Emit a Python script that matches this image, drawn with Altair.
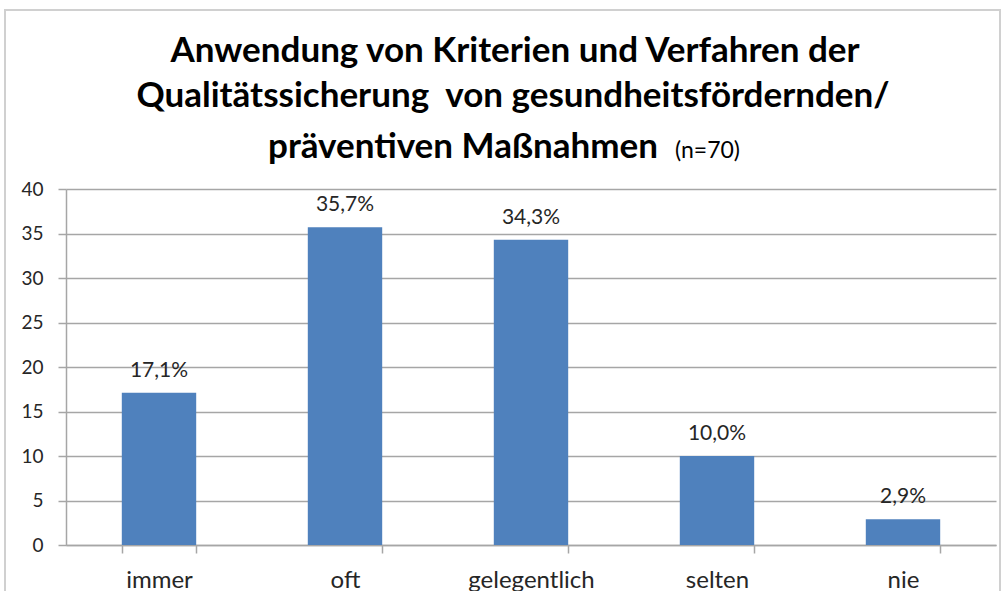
import altair as alt
import pandas as pd

categories = ["immer", "oft", "gelegentlich", "selten", "nie"]
values = [17.1, 35.7, 34.3, 10.0, 2.9]
labels = ["17,1%", "35,7%", "34,3%", "10,0%", "2,9%"]
title_lines = ["Anwendung von Kriterien und Verfahren der",
               "Qualitätssicherung\u00a0 von gesundheitsfördernden/",
               "präventiven Maßnahmen"]
n_note = "(n=70)"

df = pd.DataFrame({"cat": categories, "val": values, "lab": labels})

FONT = "Lato"
TXT = "#262626"
GRID = "#A6A6A6"
W, H = 930, 356

x = alt.X("cat:N", sort=categories, title=None,
          scale=alt.Scale(paddingInner=0.6, paddingOuter=0.3),
          axis=alt.Axis(labelFontSize=24, labelColor=TXT, labelFont=FONT,
                        labelBaseline="alphabetic", labelPadding=34,
                        tickBand="extent", tickSize=8, tickWidth=1.5,
                        tickColor=GRID, domainColor=GRID, domainWidth=1.5,
                        grid=False, labelAngle=0))
y = alt.Y("val:Q", title=None,
          scale=alt.Scale(domain=[0, 40]),
          axis=alt.Axis(values=[0, 5, 10, 15, 20, 25, 30, 35, 40], labelFontSize=19,
                        labelFont=FONT, labelColor=TXT, labelPadding=15,
                        tickSize=8, tickWidth=1.5, tickColor=GRID,
                        domainColor=GRID, domainWidth=1.5,
                        gridColor=GRID, gridWidth=1.5))

base = alt.Chart(df)
bars = base.mark_bar(color="#4F81BD").encode(x=x, y=y)
text = base.mark_text(dy=-22, fontSize=21, font=FONT, color=TXT).encode(
    x=alt.X("cat:N", sort=categories), y="val:Q", text="lab:N")


def title_text(s, xv, yv, size, weight="bold", align="center"):
    return alt.Chart(pd.DataFrame({"t": [s]})).mark_text(
        fontSize=size, fontWeight=weight, font=FONT, color="#000000",
        align=align, baseline="alphabetic").encode(
        text="t:N", x=alt.value(xv), y=alt.value(yv))


t1 = title_text(title_lines[0], 449, -127, 35)
t2 = title_text(title_lines[1], 447, -82, 35)
t3 = title_text(title_lines[2], 592, -31, 35, align="right")
t4 = title_text(n_note, 609, -31, 23, weight="normal", align="left")

frame = alt.Chart(pd.DataFrame({"a": [0]})).mark_rect(
    fill=None, stroke="#D0D0D0", strokeWidth=2).encode(
    x=alt.value(-61), x2=alt.value(934), y=alt.value(-179), y2=alt.value(420))

chart = alt.layer(frame, bars, text, t1, t2, t3, t4).properties(
    width=W, height=H,
    autosize=alt.AutoSizeParams(type="none"),
    padding={"left": 66, "top": 189, "right": 8, "bottom": 46},
    background="#FFFFFF",
).configure_view(stroke=None)

chart.save("out.html", embed_options={"renderer": "svg", "actions": False})
